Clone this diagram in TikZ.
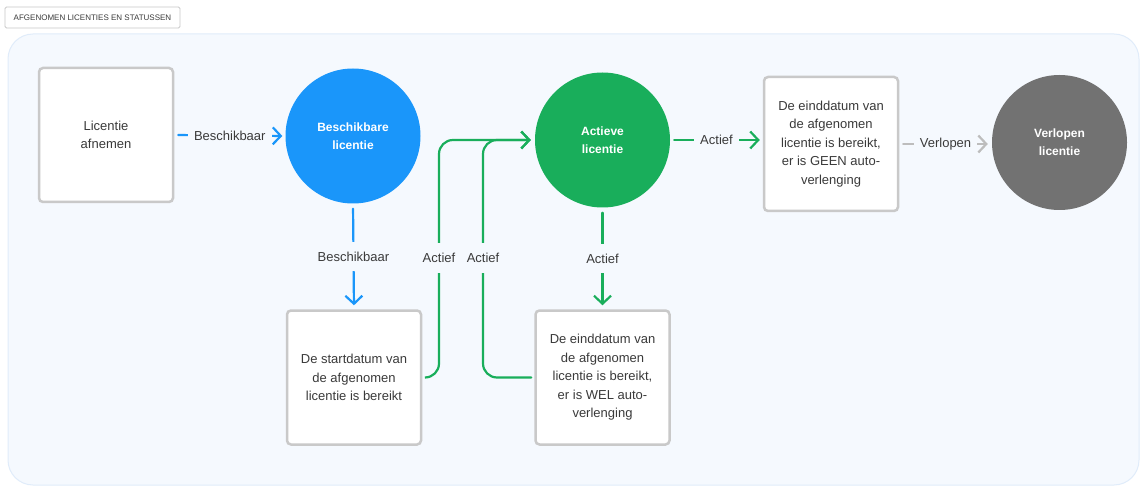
\documentclass[tikz,border=0pt]{standalone}
\usepackage{fontspec}
\setmainfont{Liberation Sans}
\usetikzlibrary{arrows.meta}
\definecolor{panelbg}{HTML}{F5F9FE}
\definecolor{panelline}{HTML}{E0ECFA}
\definecolor{boxline}{HTML}{C9C9C9}
\definecolor{txt}{HTML}{3A3A3A}
\definecolor{bluec}{HTML}{1A96FA}
\definecolor{greenc}{HTML}{19AE5B}
\definecolor{grayc}{HTML}{727272}
\definecolor{grayarrow}{HTML}{BDBDBD}
\tikzset{
  box/.style={draw=boxline, line width=2.5pt, fill=white, rounded corners=4pt,
    minimum width=134pt, minimum height=134pt, align=center, text=txt,
    font=\fontsize{13}{18.5}\selectfont, inner sep=0pt},
  state/.style={circle, minimum size=135pt, inner sep=0pt, align=center, text=white,
    font=\fontsize{12}{18}\selectfont\bfseries},
  lab/.style={fill=panelbg, text=txt, font=\fontsize{13}{16}\selectfont,
    inner xsep=6pt, inner ysep=10pt},
  conn/.style={line width=2.2pt, line cap=round,
    -{Straight Barb[length=8pt,width=17pt,line width=2.2pt]}},
  bl/.style={conn, draw=bluec},
  gr/.style={conn, draw=greenc},
  gy/.style={conn, draw=grayarrow},
}
\begin{document}
\begin{tikzpicture}[x=1pt,y=-1pt]
\useasboundingbox (0,0) rectangle (1140,486);
\fill[white] (0,0) rectangle (1140,486);
% panel
\draw[panelline, fill=panelbg, line width=1pt, rounded corners=25pt] (8,34) rectangle (1139,485);
% title
\node[draw=boxline, line width=0.8pt, fill=white, rounded corners=1.5pt, minimum width=175pt,
  minimum height=21pt, inner sep=0pt, text=txt, font=\fontsize{8}{9}\selectfont]
  (title) at (92.5,17.5) {AFGENOMEN LICENTIES EN STATUSSEN};

% nodes
\node[box] (afn) at (106,135) {Licentie\\afnemen};
\node[state, fill=bluec] (besch) at (353,136) {Beschikbare\\licentie};
\node[box] (start) at (354,377.5) {De startdatum van\\de afgenomen\\licentie is bereikt};
\node[state, fill=greenc] (actief) at (602.5,140) {Actieve\\licentie};
\node[box] (wel) at (602.5,377.5) {De einddatum van\\de afgenomen\\licentie is bereikt,\\er is WEL auto-\\verlenging};
\node[box] (geen) at (831,144) {De einddatum van\\de afgenomen\\licentie is bereikt,\\er is GEEN auto-\\verlenging};
\node[state, fill=grayc] (verl) at (1059.5,142.5) {Verlopen\\licentie};

\coordinate (c1) at (439,140);
\coordinate (c2) at (483,140);

% connectors
\draw[bl, shorten <=4pt, shorten >=3pt] (afn.east) -- node[lab] {Beschikbaar} (besch.west);
\draw[bl, shorten <=5pt, shorten >=4pt] (besch.south) -- node[lab] (lb2) {Beschikbaar} (start.north);
\draw[gr, rounded corners=14pt, shorten <=3pt, shorten >=4pt] (start.east) -| (c1) -- (actief.west);
\draw[gr, rounded corners=14pt, shorten <=3pt, shorten >=4pt] (wel.west) -| (c2) -- (actief.west);
\node[lab] (la1) at (439,258) {Actief};
\node[lab] (la2) at (483,258) {Actief};
\draw[gr, shorten <=5pt, shorten >=4pt] (actief.south) -- node[lab] {Actief} (wel.north);
\draw[gr, shorten <=4pt, shorten >=3pt] (actief.east) -- node[lab] {Actief} (geen.west|-actief.east);
\draw[gy, shorten <=4pt, shorten >=4pt] (geen.east) -- node[lab] {Verlopen} (verl.west|-geen.east);
\end{tikzpicture}
\end{document}
